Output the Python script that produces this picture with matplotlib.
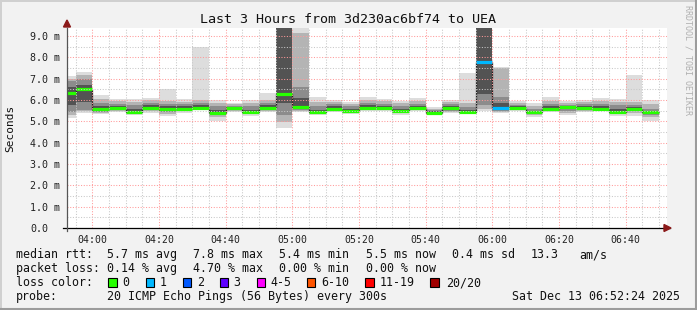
import matplotlib
matplotlib.use('Agg')
import matplotlib.pyplot as plt
from matplotlib.patches import Rectangle, Polygon
from matplotlib.lines import Line2D

# ---------------- data ----------------
title = "Last 3 Hours from 3d230ac6bf74 to UEA"
bar_start_min = 3 * 60 + 50          # first 5-minute bar starts at 03:50
step_min = 5
view_start_min = 3 * 60 + 52.4       # 03:52:24
view_end_min = 6 * 60 + 52.4         # 06:52:24

ping_min = [5.15, 5.40, 5.34, 5.45, 5.30, 5.41, 5.27, 5.41, 5.53, 5.03, 5.45, 5.27,
            5.45, 4.67, 5.45, 5.30, 5.45, 5.33, 5.50, 5.50, 5.30, 5.50, 5.33, 5.38,
            5.34, 5.48, 5.40, 5.48, 5.22, 5.42, 5.30, 5.45, 5.48, 5.27, 5.25, 5.03]
band2_lo = [5.30, 5.50, 5.40, 5.50, 5.35, 5.50, 5.35, 5.50, 5.58, 5.20, 5.50, 5.35,
            5.50, 4.98, 5.50, 5.35, 5.50, 5.40, 5.55, 5.55, 5.38, 5.55, 5.38, 5.45,
            5.40, 5.60, 5.45, 5.52, 5.30, 5.48, 5.40, 5.50, 5.52, 5.35, 5.40, 5.20]
band3_lo = [5.45, 5.55, 5.45, 5.55, 5.40, 5.55, 5.45, 5.55, 5.60, 5.30, 5.55, 5.40,
            5.55, 5.30, 5.55, 5.40, 5.55, 5.45, 5.58, 5.58, 5.42, 5.58, 5.40, 5.50,
            5.42, 5.75, 5.50, 5.55, 5.35, 5.52, 5.50, 5.55, 5.55, 5.40, 5.50, 5.30]
band4_lo = [5.75, 5.90, 5.50, 5.60, 5.44, 5.60, 5.50, 5.57, 5.62, 5.38, 5.58, 5.42,
            5.60, 5.84, 5.60, 5.42, 5.58, 5.48, 5.60, 5.60, 5.45, 5.60, 5.41, 5.55,
            5.44, 6.30, 5.55, 5.58, 5.40, 5.55, 5.60, 5.58, 5.57, 5.43, 5.55, 5.38]
median = [6.34, 6.50, 5.58, 5.64, 5.45, 5.62, 5.58, 5.58, 5.64, 5.41, 5.61, 5.42,
          5.64, 6.30, 5.69, 5.42, 5.60, 5.50, 5.61, 5.61, 5.48, 5.61, 5.41, 5.61,
          5.45, 7.78, 5.61, 5.61, 5.42, 5.58, 5.69, 5.61, 5.58, 5.45, 5.58, 5.42]
band4_hi = [6.60, 6.70, 5.70, 5.70, 5.60, 5.75, 5.70, 5.70, 5.75, 5.55, 5.68, 5.55,
            5.75, 11.0, 6.10, 5.55, 5.70, 5.60, 5.75, 5.70, 5.60, 5.70, 5.48, 5.70,
            5.55, 11.0, 5.85, 5.70, 5.50, 5.70, 5.72, 5.70, 5.70, 5.60, 5.65, 5.50]
band3_hi = [6.90, 7.00, 5.85, 5.80, 5.75, 5.85, 5.80, 5.80, 5.85, 5.70, 5.74, 5.70,
            5.85, 11.5, 6.60, 5.70, 5.80, 5.70, 5.85, 5.80, 5.70, 5.80, 5.52, 5.80,
            5.65, 11.5, 6.16, 5.78, 5.60, 5.80, 5.78, 5.80, 5.80, 5.75, 5.75, 5.60]
band2_hi = [7.00, 7.15, 6.05, 5.95, 5.90, 6.00, 5.95, 5.90, 6.00, 5.85, 5.80, 5.85,
            6.00, 12.0, 9.13, 5.90, 5.90, 5.80, 6.00, 5.95, 5.85, 5.95, 5.58, 5.90,
            5.85, 12.0, 7.50, 5.85, 5.72, 5.95, 5.85, 5.90, 5.95, 5.90, 5.90, 5.80]
ping_max = [7.12, 7.33, 6.23, 6.05, 6.05, 6.11, 6.50, 6.03, 8.50, 6.00, 5.87, 6.00,
            6.34, 12.5, 9.60, 6.14, 6.00, 5.92, 6.12, 6.05, 5.95, 6.08, 5.66, 6.00,
            7.28, 12.5, 7.56, 5.93, 5.84, 6.12, 5.95, 6.00, 6.08, 6.05, 7.17, 6.00]
loss = [0, 0, 0, 0, 0, 0, 0, 0, 0, 0, 0, 0,
        0, 0, 0, 0, 0, 0, 0, 0, 0, 0, 0, 0,
        0, 1, 1, 0, 0, 0, 0, 0, 0, 0, 0, 0]

tick_minutes = [240, 260, 280, 300, 320, 340, 360, 380, 400]
tick_labels = ["04:00", "04:20", "04:40", "05:00", "05:20", "05:40", "06:00", "06:20", "06:40"]
y_ticks = [0.0, 1.0, 2.0, 3.0, 4.0, 5.0, 6.0, 7.0, 8.0, 9.0]
y_tick_labels = ["0.0", "1.0 m", "2.0 m", "3.0 m", "4.0 m", "5.0 m", "6.0 m", "7.0 m", "8.0 m", "9.0 m"]

loss_labels = ["0", "1", "2", "3", "4-5", "6-10", "11-19", "20/20"]
loss_colors = ["#26ff00", "#00b8ff", "#0059ff", "#5e00ff", "#ff00ff", "#ff5500", "#ff0000", "#a10000"]

stats_rtt = ["median rtt:", "5.7 ms avg", "7.8 ms max", "5.4 ms min", "5.5 ms now", "0.4 ms sd", "13.3", "am/s"]
stats_loss = ["packet loss:", "0.14 % avg", "4.70 % max", "0.00 % min", "0.00 % now"]
probe_text = "20 ICMP Echo Pings (56 Bytes) every 300s"
stamp_text = "Sat Dec 13 06:52:24 2025"

# ---------------- figure ----------------
W, H = 697, 310
MONO = "DejaVu Sans Mono"
fig = plt.figure(figsize=(W / 100, H / 100), dpi=100)
fig.patch.set_facecolor("#f2f2f2")

def fx(px):
    return px / W

def fy(py):
    return 1 - py / H

ax = fig.add_axes([fx(67), fy(228), (667 - 67) / W, (228 - 28) / H])
ax.set_facecolor("white")

n = len(median)
starts = [bar_start_min + step_min * i for i in range(n)]
ends = [s + step_min for s in starts]
edges = starts + [ends[-1]]

bands = [
    (ping_min, ping_max, "#dddddd"),
    (band2_lo, band2_hi, "#b4b4b4"),
    (band3_lo, band3_hi, "#8c8c8c"),
    (band4_lo, band4_hi, "#535353"),
]
for lo, hi, col in bands:
    ax.bar(starts, [h - l for l, h in zip(lo, hi)], bottom=lo, width=step_min,
           align="edge", color=col, linewidth=0, zorder=2)

ax.stairs(median, edges, baseline=None, color="#202020", linewidth=0.9, zorder=3)
ax.hlines(median, starts, ends, colors=[loss_colors[l] for l in loss],
          linewidth=2.3, zorder=4)

ax.set_xlim(view_start_min, view_end_min)
ax.set_ylim(0, 9.375)

# grid
for m in range(bar_start_min, int(view_end_min) + 1, 5):
    if m <= view_start_min:
        continue
    major = (m % 20 == 0)
    ax.axvline(m, color="#ff9a9a" if major else "#c8c8c8", linewidth=0.75,
               linestyle=(0, (1, 1.6)), zorder=5)
for k in range(1, 19):
    v = k * 0.5
    major = (k % 2 == 0)
    ax.axhline(v, color="#ff9a9a" if major else "#c8c8c8", linewidth=0.75,
               linestyle=(0, (1, 1.6)), zorder=5)

for s in ax.spines.values():
    s.set_visible(False)

ax.set_xticks(tick_minutes)
ax.set_xticklabels(tick_labels, fontfamily=MONO, fontsize=7.1, color="#222222")
ax.set_yticks(y_ticks)
ax.set_yticklabels(y_tick_labels, fontfamily=MONO, fontsize=7.2, color="#222222")
ax.tick_params(axis="x", length=0, pad=5.0)
ax.tick_params(axis="y", length=0, pad=26.5)
for lab in ax.get_yticklabels():
    lab.set_horizontalalignment("left")

# axes lines + arrows
ax.add_line(Line2D([-0.007, 1.005], [0, 0], transform=ax.transAxes, color="black",
                   linewidth=0.9, clip_on=False, zorder=6))
ax.add_line(Line2D([0, 0], [-0.017, 1.0], transform=ax.transAxes, color="#555555",
                   linewidth=0.9, clip_on=False, zorder=6))
fig.add_artist(Polygon([[fx(63.5), fy(27)], [fx(70.5), fy(27)], [fx(67), fy(20)]],
                       closed=True, transform=fig.transFigure, color="#8b1a1a"))
fig.add_artist(Polygon([[fx(664), fy(224.5)], [fx(664), fy(231.5)], [fx(671), fy(228)]],
                       closed=True, transform=fig.transFigure, color="#8b1a1a"))

# titles
fig.text(fx(348), fy(23.3), title, fontfamily=MONO, fontsize=9.6, ha="center",
         va="baseline", color="#111111")
fig.text(fx(10), fy(128), "Seconds", fontfamily=MONO, fontsize=8.0, rotation=90,
         ha="center", va="center", color="#111111")
fig.text(fx(688), fy(5), "RRDTOOL / TOBI OETIKER", fontfamily=MONO, fontsize=6.0,
         rotation=-90, ha="center", va="top", color="#b0b0b0")

# legend lines
FS = 8.4
rtt_x = [16, 107.3, 193.3, 279.3, 365.7, 451.7, 530.7, 579.3]
for txt, x in zip(stats_rtt, rtt_x):
    fig.text(fx(x), fy(258.3), txt, fontfamily=MONO, fontsize=FS, va="baseline", color="#111111")
loss_x = [16, 107.3, 193.3, 279.3, 365.7]
for txt, x in zip(stats_loss, loss_x):
    fig.text(fx(x), fy(272.3), txt, fontfamily=MONO, fontsize=FS, va="baseline", color="#111111")
fig.text(fx(16), fy(286.3), "loss color:", fontfamily=MONO, fontsize=FS, va="baseline", color="#111111")
box_x = [108.3, 145.7, 182.7, 219.7, 256.7, 307.0, 365.3, 430.3]
lab_x = [122.7, 160.0, 196.7, 233.3, 270.7, 321.7, 380.0, 445.7]
for lab, col, bx, lx in zip(loss_labels, loss_colors, box_x, lab_x):
    fig.add_artist(Rectangle((fx(bx), fy(286.7)), 8.4 / W, 8.4 / H, transform=fig.transFigure,
                             facecolor=col, edgecolor="black", linewidth=0.8))
    fig.text(fx(lx), fy(286.3), lab, fontfamily=MONO, fontsize=FS, va="baseline", color="#111111")
fig.text(fx(16), fy(300.3), "probe:", fontfamily=MONO, fontsize=FS, va="baseline", color="#111111")
fig.text(fx(107.3), fy(300.3), probe_text, fontfamily=MONO, fontsize=FS, va="baseline", color="#111111")
fig.text(fx(680.5), fy(300.3), stamp_text, fontfamily=MONO, fontsize=FS, va="baseline",
         ha="right", color="#111111")

# frame shading
fig.add_artist(Line2D([0, 1], [fy(0.5), fy(0.5)], transform=fig.transFigure, color="#d0d0d0", linewidth=1.4))
fig.add_artist(Line2D([fx(0.5), fx(0.5)], [0, 1], transform=fig.transFigure, color="#d0d0d0", linewidth=1.4))
fig.add_artist(Line2D([0, 1], [fy(309), fy(309)], transform=fig.transFigure, color="#9c9c9c", linewidth=1.5))
fig.add_artist(Line2D([fx(696), fx(696)], [0, 1], transform=fig.transFigure, color="#9c9c9c", linewidth=1.5))

fig.savefig("out.png", dpi=100, facecolor=fig.get_facecolor())
